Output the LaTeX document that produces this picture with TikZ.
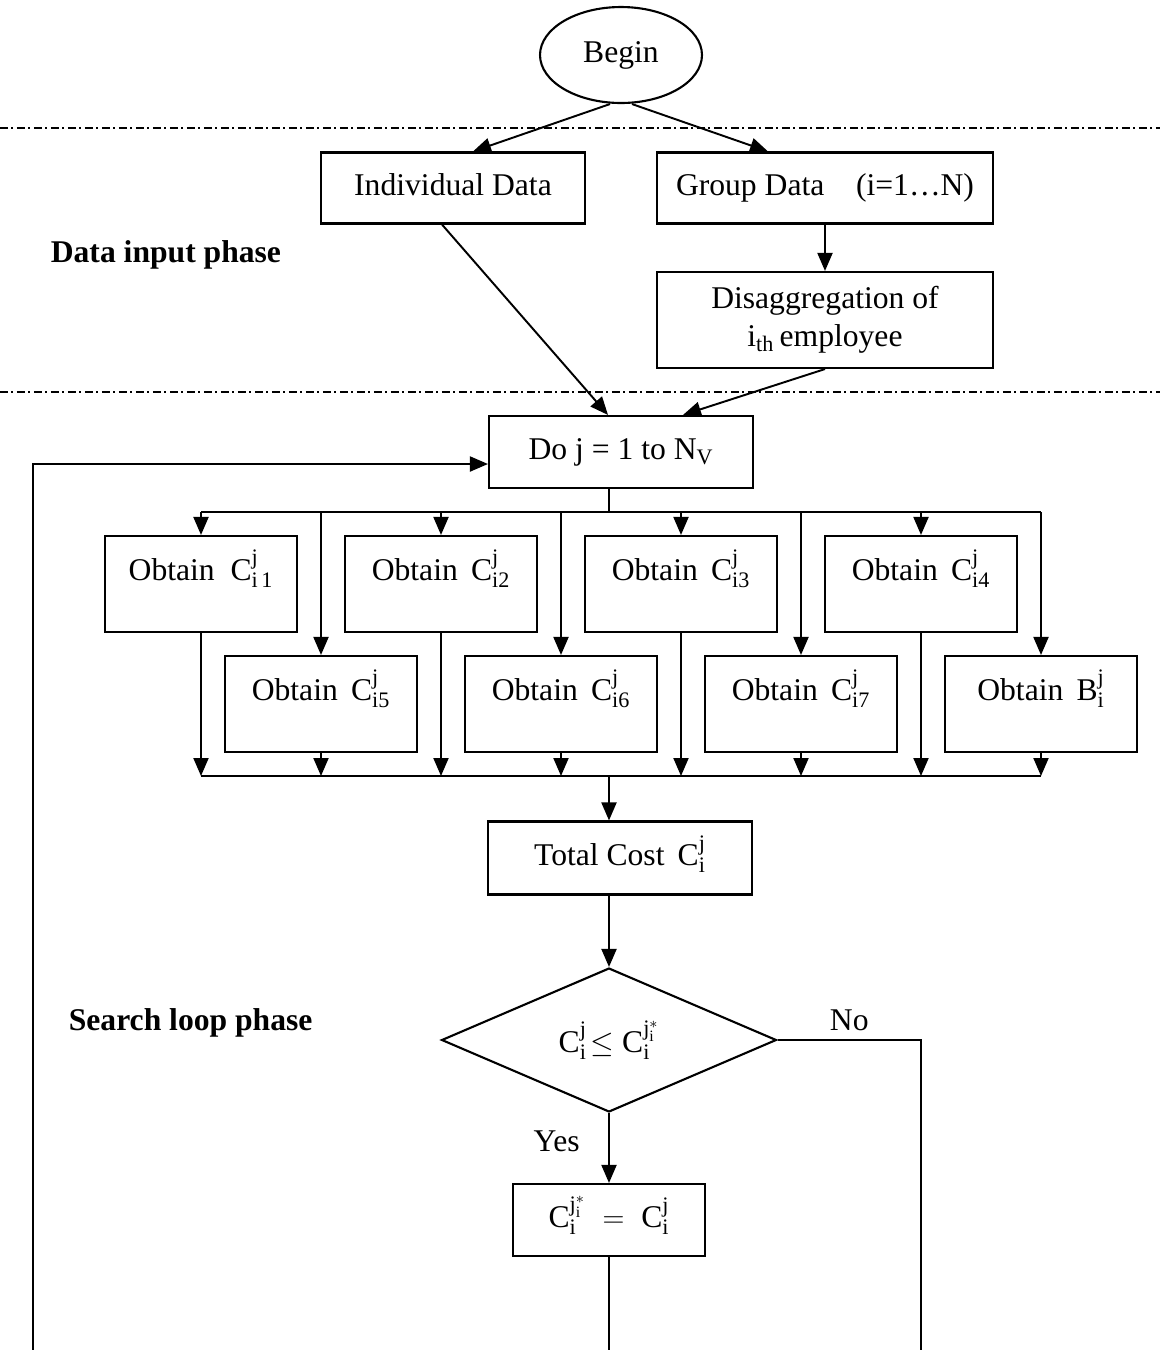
\documentclass[tikz,border=0pt]{standalone}
\usepackage{fontspec}
\setmainfont{Liberation Serif}
\usetikzlibrary{arrows.meta, positioning, calc, shapes.geometric}

\begin{document}
\begin{tikzpicture}[x=0.02cm, y=-0.02cm, line width=1.1pt,
  font=\fontsize{18}{21.6}\selectfont,
  >={Triangle[length=0.36cm,width=0.3cm]},
  box/.style={draw, line width=1.2pt, inner sep=0pt},
  oneline/.style={text height=0.45cm, text depth=0.15cm},
  obtain/.style={box, minimum width=3.84cm, minimum height=1.92cm, text height=0.5cm, text depth=0.66cm},
  phase/.style={anchor=west, font=\fontsize{18}{21.6}\selectfont\bfseries},
  divider/.style={line width=0.9pt, dash pattern=on 0.16cm off 0.07cm on 0.04cm off 0.07cm}]
  \useasboundingbox (0,0) rectangle (1160,1350);

  % Data input phase
  \node[draw, line width=1.2pt, ellipse, minimum width=3.24cm, minimum height=1.92cm, inner sep=0pt] (begin) at (621,55) {Begin};
  \draw[divider] (0,128) -- (1160,128);
  \node[box, oneline, minimum width=5.28cm, minimum height=1.42cm] (indiv) at (453,188) {Individual Data};
  \node[box, oneline, minimum width=6.72cm, minimum height=1.42cm] (group) at (825,188) {Group Data\quad (i=1…N)};
  \node[box, align=center, minimum width=6.72cm, minimum height=1.92cm] (disagg) at (825,320) {Disaggregation of\\i$_{\mathrm{th}}$\,employee};
  \node[phase] (inputlbl) at (44,255) {Data input phase};
  \draw[divider] (0,392) -- (1160,392);

  \draw[->] ([xshift=-0.22cm]begin.south) -- ([xshift=0.4cm]indiv.north);
  \draw[->] ([xshift=0.22cm]begin.south) -- ([xshift=-1.14cm]group.north);
  \draw[->] (group) -- (disagg);

  % Search loop phase
  \node[box, oneline, minimum width=5.28cm, minimum height=1.44cm] (doloop) at (621,452) {Do j = 1 to N$_{\mathrm{V}}$};
  \draw[->] ([xshift=-0.22cm]indiv.south) -- ([xshift=-0.26cm]doloop.north);
  \draw[->] (disagg.south) -- ([xshift=1.24cm]doloop.north);

  \coordinate (bustop) at (609,512);
  \coordinate (busbot) at (609,776);
  \node[obtain] (o1) at (201,584) {Obtain\ \ $\mathrm{C}^{\mathrm{j}}_{\mathrm{i\,1}}$};
  \foreach \k/\x in {2/441,3/681,4/921}
    \node[obtain] (o\k) at (\x,584) {Obtain\ \,$\mathrm{C}^{\mathrm{j}}_{\mathrm{i\k}}$};
  \foreach \k/\x in {5/321,6/561,7/801}
    \node[obtain] (o\k) at (\x,704) {Obtain\ \,$\mathrm{C}^{\mathrm{j}}_{\mathrm{i\k}}$};
  \node[obtain] (o8) at (1041,704) {Obtain\ \,$\mathrm{B}^{\mathrm{j}}_{\mathrm{i}}$};

  \draw (doloop.south -| bustop) -- (bustop);
  \draw (o1 |- bustop) -- (o8 |- bustop);
  \draw (o1 |- busbot) -- (o8 |- busbot);
  \foreach \k in {1,...,8} {
    \draw[->] (o\k |- bustop) -- (o\k);
    \draw[->] (o\k) -- (o\k |- busbot);
  }

  \node[box, oneline, minimum width=5.28cm, minimum height=1.46cm] (total) at (620,858) {Total Cost\ \,$\mathrm{C}^{\mathrm{j}}_{\mathrm{i}}$};
  \draw[->] (busbot) -- (busbot |- total.north);

  \node[draw, line width=1.2pt, diamond, aspect=2.3, minimum width=6.7cm, minimum height=2.88cm, inner sep=1pt] (test) at (609,1040)
    {$\mathrm{C}^{\mathrm{j}}_{\mathrm{i}}\!\leq\mathrm{C}_{\mathrm{i}}^{\mathrm{j}_{\mathrm{i}}^{*}}$};
  \draw[->] (total.south -| test) -- (test.north);
  \node[phase] (searchlbl) at (62,1023) {Search loop phase};

  \node[box, oneline, minimum width=3.84cm, minimum height=1.44cm] (assign) at (609,1220)
    {$\mathrm{C}_{\mathrm{i}}^{\mathrm{j}_{\mathrm{i}}^{*}}\;=\;\mathrm{C}^{\mathrm{j}}_{\mathrm{i}}$};
  \draw[->] (test.south) -- (assign.north) node[pos=0.4, left=0.45cm] {Yes};

  \coordinate (noend) at (921,1350);
  \coordinate (loopend) at (33,1350);
  \draw (test.east) -| (noend) node[pos=0.25, above=0.05cm] {No};
  \draw (assign) -- (assign |- noend);
  \draw[->] (loopend) |- ([yshift=-0.24cm]doloop.west);
\end{tikzpicture}
\end{document}
